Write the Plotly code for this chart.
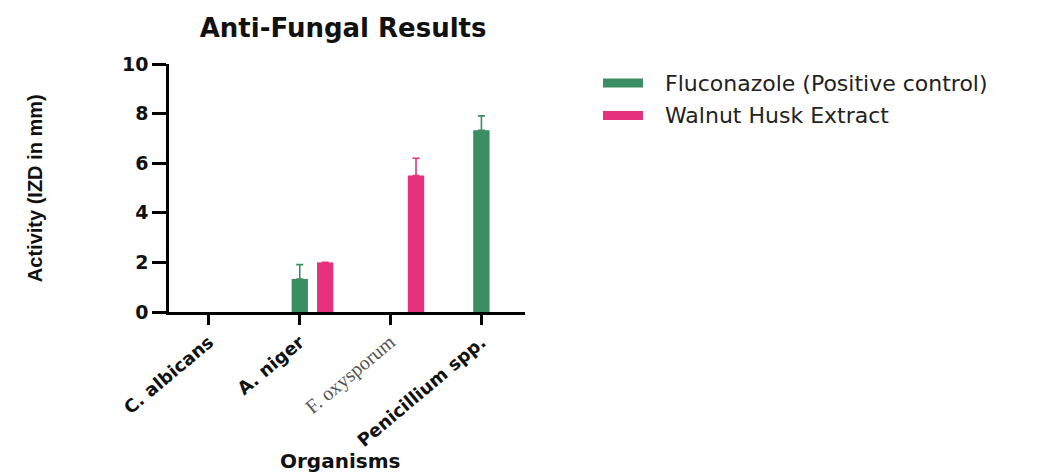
import plotly.graph_objects as go

# Antifungal activity (inhibition zone diameter, mm) per organism
organisms = ["C. albicans", "A. niger", "F. oxysporum", "Penicillium spp."]
series_names = ["Fluconazole (Positive control)", "Walnut Husk Extract"]
fluconazole = [0, 1.33, 0, 7.33]
fluconazole_err = [0, 0.58, 0, 0.58]
walnut = [0, 2.0, 5.5, 0]
walnut_err = [0, 0, 0.7, 0]
y_ticks = [0, 2, 4, 6, 8, 10]

GREEN = "#3b8d62"
PINK = "#e6317d"
colors = [GREEN, PINK]

tick_text = [
    "<b>C. albicans</b>",
    "<b>A. niger</b>",
    '<span style="font-family:\'Liberation Serif\';font-size:20px;color:#555555">F. oxysporum</span>',
    "<b>Penicillium spp.</b>",
]

fig = go.Figure()
for name, vals, errs, col, off in [
    (series_names[0], fluconazole, fluconazole_err, GREEN, -0.09),
    (series_names[1], walnut, walnut_err, PINK, 0.19),
]:
    # zero activity: no bar; zero spread: no whisker
    ys = [v if v > 0 else None for v in vals]
    plus = [e if (v > 0 and e > 0) else None for v, e in zip(vals, errs)]
    fig.add_trace(go.Bar(
        x=organisms, y=ys, name=name,
        width=0.18, offset=off,
        marker=dict(color=col, line=dict(width=0)),
        error_y=dict(type="data", symmetric=False, array=plus,
                     arrayminus=[0] * len(errs),
                     color=col, thickness=1.6, width=3.5),
        showlegend=False,
    ))

fig.update_layout(
    width=1047, height=475,
    margin=dict(l=169, r=522, t=64, b=163),
    paper_bgcolor="white", plot_bgcolor="white",
    barmode="overlay",
    font=dict(family="DejaVu Sans", color="#111111"),
    title=dict(text="<b>Anti-Fungal Results</b>", x=0.489, xref="paper",
               xanchor="center", y=1 - 28 / 475, yref="container",
               yanchor="middle",
               font=dict(family="DejaVu Sans", size=26, color="#111111")),
)

fig.update_xaxes(
    type="category", range=[-0.44, 3.48],
    tickvals=organisms, ticktext=tick_text, tickangle=-40,
    tickfont=dict(family="DejaVu Sans", size=18, color="#111111"),
    showline=True, linecolor="black", linewidth=2.5,
    ticks="outside", ticklen=10, tickwidth=2.5, tickcolor="black",
    showgrid=False, zeroline=False,
)
fig.update_yaxes(
    range=[0, 10], tickvals=y_ticks,
    tickfont=dict(family="DejaVu Sans", size=19, color="#111111", weight="bold"),
    showline=True, linecolor="black", linewidth=2.5,
    ticks="outside", ticklen=14, tickwidth=2.5, tickcolor="black",
    showgrid=False, zeroline=False,
)

# Axis titles
fig.add_annotation(text="<b>Activity (IZD in mm)</b>", xref="paper", yref="paper",
                   x=-0.376, y=0.5, textangle=-90, showarrow=False,
                   xanchor="center", yanchor="middle",
                   font=dict(family="Liberation Sans", size=20, color="#111111"))
fig.add_annotation(text="<b>Organisms</b>", xref="paper", yref="paper",
                   x=0.48, y=(312 - 461) / 248, showarrow=False,
                   xanchor="center", yanchor="middle",
                   font=dict(family="DejaVu Sans", size=20, color="#111111"))

# Legend entries
plot_h = 248
for i, (name, col) in enumerate(zip(series_names, colors)):
    cy = 83 + i * 32.5
    fig.add_shape(type="rect", xref="paper", yref="paper",
                  x0=(603 - 169) / 356, x1=(643 - 169) / 356,
                  y0=(312 - (cy - 4.5)) / plot_h, y1=(312 - (cy + 4.5)) / plot_h,
                  fillcolor=col, line=dict(width=0))
    fig.add_annotation(text=name, xref="paper", yref="paper",
                       x=(663 - 169) / 356, y=(312 - cy) / plot_h,
                       xanchor="left", yanchor="middle", showarrow=False,
                       font=dict(family="DejaVu Sans", size=22, color="#222222"))

fig.write_html("out.html")
